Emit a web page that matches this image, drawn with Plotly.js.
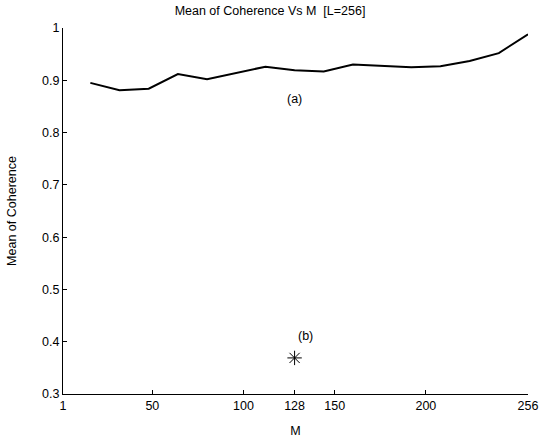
<!DOCTYPE html>
<html>
<head>
<meta charset="utf-8">
<script src="https://cdn.plot.ly/plotly-3.0.1.min.js"></script>
<style>html,body{margin:0;padding:0;background:#fff;}#chart{width:540px;height:443px;}</style>
</head>
<body>
<div id="chart"></div>
<script>
const mValues = [16, 32, 48, 64, 80, 96, 112, 128, 144, 160, 176, 192, 208, 224, 240, 256];
const meanCoherence = [0.895, 0.881, 0.884, 0.912, 0.902, 0.914, 0.926, 0.919, 0.917, 0.930, 0.928, 0.925, 0.927, 0.937, 0.952, 0.988];
const pointM = [128];
const pointCoherence = [0.369];
const xTicks = [1, 50, 100, 128, 150, 200, 256];
const yTicks = [0.3, 0.4, 0.5, 0.6, 0.7, 0.8, 0.9, 1];
const labelA = {x: 128, y: 0.865, text: '(a)'};
const labelB = {x: 134, y: 0.41, text: '(b)'};

const font = {family: 'Liberation Sans, Arial, sans-serif', size: 12.5, color: '#000'};

Plotly.newPlot('chart', [
  {x: mValues, y: meanCoherence, mode: 'lines', line: {color: '#000', width: 2}, showlegend: false},
  {x: pointM, y: pointCoherence, mode: 'markers', marker: {symbol: 'asterisk-open', size: 12, color: '#000', line: {color: '#000', width: 1}}, showlegend: false}
], {
  width: 540, height: 443,
  margin: {l: 63, r: 12, t: 28, b: 49},
  paper_bgcolor: '#fff', plot_bgcolor: '#fff',
  font: font,
  title: {text: 'Mean of Coherence Vs M  [L=256]', font: {family: font.family, size: 12.5, color: '#000'}, x: 0.5, xanchor: 'center', y: 0.985, yanchor: 'top'},
  xaxis: {
    range: [1, 256], tickvals: xTicks, ticktext: xTicks.map(String),
    ticks: 'inside', ticklen: 4, tickcolor: '#000', showline: true, linecolor: '#000', linewidth: 1,
    showgrid: false, zeroline: false, tickfont: font,
    title: {text: 'M', font: font, standoff: 14}
  },
  yaxis: {
    range: [0.3, 1], tickvals: yTicks, ticktext: yTicks.map(String),
    ticks: 'inside', ticklen: 4, tickcolor: '#000', showline: true, linecolor: '#000', linewidth: 1,
    showgrid: false, zeroline: false, tickfont: font,
    title: {text: 'Mean of Coherence', font: font, standoff: 22}
  },
  annotations: [
    {x: labelA.x, y: labelA.y, text: labelA.text, showarrow: false, font: font, xanchor: 'center', yanchor: 'middle'},
    {x: labelB.x, y: labelB.y, text: labelB.text, showarrow: false, font: font, xanchor: 'center', yanchor: 'middle'}
  ]
}, {displayModeBar: false, staticPlot: true});
</script>
</body>
</html>
